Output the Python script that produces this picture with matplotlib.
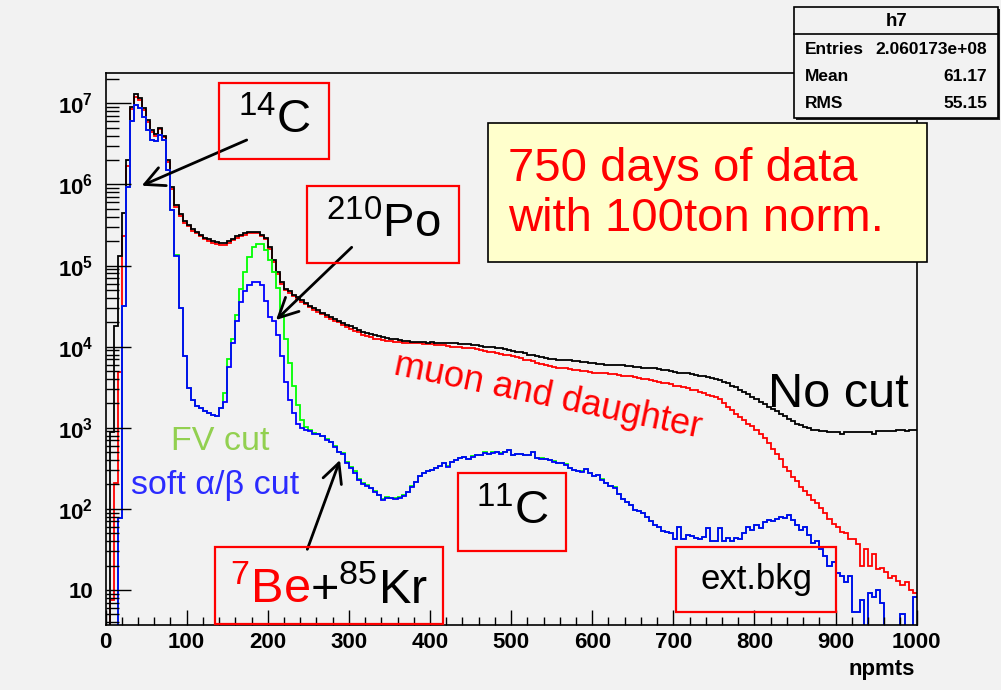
import numpy as np
import matplotlib.pyplot as plt
from matplotlib.patches import Rectangle
from matplotlib.ticker import LogLocator, NullFormatter

plt.rcParams['font.family'] = ['Liberation Sans', 'DejaVu Sans']
plt.rcParams['mathtext.fontset'] = 'custom'
plt.rcParams['mathtext.rm'] = 'Liberation Sans'
plt.rcParams['mathtext.it'] = 'Liberation Sans:italic'
plt.rcParams['mathtext.bf'] = 'Liberation Sans:bold'

# npmts histogram, 200 bins of width 5 between 0 and 1000
edges = np.linspace(0, 1000, 201)

no_cut = [
    0, 890, 1.8e4, 1.3e5, 4.4e5, 2.0e6, 8.9e6, 1.3e7, 1.15e7, 8.7e6,
    6.2e6, 4.7e6, 4.2e6, 5.0e6, 4.0e6, 2.0e6, 9.3e5, 5.6e5, 4.3e5, 3.5e5,
    3.2e5, 2.8e5, 2.6e5, 2.4e5, 2.2e5, 2.1e5, 2.0e5, 1.95e5, 1.9e5, 1.9e5,
    2.0e5, 2.15e5, 2.3e5, 2.4e5, 2.5e5, 2.6e5, 2.6e5, 2.6e5, 2.4e5, 2.2e5,
    1.7e5, 1.17e5, 8.3e4, 6.3e4, 5.2e4, 4.8e4, 4.4e4, 4.1e4, 3.8e4, 3.5e4,
    3.2e4, 3.0e4, 2.8e4, 2.6e4, 2.45e4, 2.3e4, 2.2e4, 2.1e4, 1.95e4, 1.85e4,
    1.78e4, 1.7e4, 1.62e4, 1.51e4, 1.48e4, 1.45e4, 1.38e4, 1.35e4, 1.32e4, 1.29e4,
    1.26e4, 1.23e4, 1.2e4, 1.17e4, 1.17e4, 1.15e4, 1.15e4, 1.15e4, 1.15e4, 1.12e4,
    1.15e4, 1.12e4, 1.12e4, 1.12e4, 1.1e4, 1.1e4, 1.1e4, 1.07e4, 1.07e4, 1.07e4,
    1.05e4, 1.05e4, 1.02e4, 1.0e4, 1.0e4, 9.8e3, 9.5e3, 9.5e3, 9.3e3, 9.1e3,
    8.9e3, 8.7e3, 8.5e3, 8.3e3, 7.9e3, 7.8e3, 7.6e3, 7.4e3, 7.2e3, 7.1e3,
    7.1e3, 6.9e3, 6.9e3, 6.8e3, 6.8e3, 6.6e3, 6.6e3, 6.5e3, 6.5e3, 6.3e3,
    6.3e3, 6.2e3, 6.2e3, 6.0e3, 6.0e3, 6.0e3, 5.9e3, 5.9e3, 5.75e3, 5.75e3,
    5.6e3, 5.6e3, 5.5e3, 5.5e3, 5.4e3, 5.4e3, 5.25e3, 5.1e3, 5.1e3, 5.0e3,
    4.9e3, 4.8e3, 4.8e3, 4.7e3, 4.6e3, 4.5e3, 4.4e3, 4.3e3, 4.2e3, 4.1e3,
    4.0e3, 3.9e3, 3.7e3, 3.55e3, 3.3e3, 3.2e3, 2.95e3, 2.75e3, 2.6e3, 2.4e3,
    2.25e3, 2.1e3, 1.95e3, 1.8e3, 1.7e3, 1.6e3, 1.5e3, 1.4e3, 1.3e3, 1.2e3,
    1120, 1070, 1020, 980, 950, 930, 910, 910, 890, 890,
    890, 850, 880, 890, 890, 890, 880, 890, 880, 850,
    900, 910, 910, 920, 910, 930, 930, 920, 940, 930,
]

muon_cut = [
    0, 7.6, 210, 4.9e3, 2.3e5, 1.7e6, 8.5e6, 1.2e7, 1.1e7, 8.3e6,
    5.9e6, 4.5e6, 4.0e6, 4.8e6, 3.8e6, 1.9e6, 8.9e5, 5.35e5, 4.1e5, 3.35e5,
    3.05e5, 2.7e5, 2.5e5, 2.3e5, 2.1e5, 2.0e5, 1.9e5, 1.85e5, 1.8e5, 1.8e5,
    1.9e5, 2.05e5, 2.2e5, 2.3e5, 2.4e5, 2.5e5, 2.5e5, 2.5e5, 2.3e5, 2.1e5,
    1.6e5, 1.1e5, 7.9e4, 6.0e4, 5.0e4, 4.6e4, 4.2e4, 3.9e4, 3.6e4, 3.35e4,
    3.05e4, 2.85e4, 2.65e4, 2.5e4, 2.3e4, 2.2e4, 2.1e4, 2.0e4, 1.85e4, 1.75e4,
    1.66e4, 1.58e4, 1.51e4, 1.41e4, 1.35e4, 1.32e4, 1.26e4, 1.23e4, 1.2e4, 1.17e4,
    1.17e4, 1.15e4, 1.14e4, 1.12e4, 1.12e4, 1.1e4, 1.1e4, 1.1e4, 1.08e4, 1.07e4,
    1.07e4, 1.06e4, 1.05e4, 1.04e4, 1.02e4, 1.0e4, 1.0e4, 9.8e3, 9.7e3, 9.5e3,
    9.5e3, 9.3e3, 9.1e3, 8.9e3, 8.7e3, 8.5e3, 8.3e3, 8.1e3, 7.9e3, 7.8e3,
    7.6e3, 7.4e3, 7.2e3, 6.9e3, 6.8e3, 6.6e3, 6.3e3, 6.2e3, 6.0e3, 5.75e3,
    5.6e3, 5.5e3, 5.4e3, 5.4e3, 5.25e3, 5.1e3, 5.1e3, 5.0e3, 5.0e3, 4.9e3,
    4.8e3, 4.8e3, 4.7e3, 4.7e3, 4.6e3, 4.6e3, 4.5e3, 4.4e3, 4.4e3, 4.3e3,
    4.2e3, 4.1e3, 4.0e3, 4.0e3, 3.9e3, 3.8e3, 3.7e3, 3.6e3, 3.55e3, 3.45e3,
    3.3e3, 3.25e3, 3.15e3, 3.1e3, 2.95e3, 2.9e3, 2.8e3, 2.7e3, 2.55e3, 2.5e3,
    2.4e3, 2.25e3, 2.0e3, 1.8e3, 1.65e3, 1.5e3, 1.35e3, 1.23e3, 1.12e3, 1.05e3,
    950, 830, 740, 650, 550, 480, 410, 330, 290, 250,
    220, 185, 165, 150, 130, 117, 102, 89, 76, 66,
    59, 52, 50, 42, 43, 37, 20, 32, 19.5, 28,
    18, 18.5, 16.5, 14, 15, 13, 11.5, 12.5, 10, 9.1,
]

fv_cut = [
    0, 0, 0, 78, 3.2e4, 9.3e5, 6.0e6, 9.5e6, 8.7e6, 6.8e6,
    4.7e6, 3.5e6, 3.4e6, 4.1e6, 3.5e6, 1.5e6, 4.8e5, 1.35e5, 3.0e4, 7.6e3,
    3.1e3, 2.2e3, 1.86e3, 1.74e3, 1.62e3, 1.51e3, 1.45e3, 1.40e3, 1.74e3, 2.7e3,
    7.1e3, 1.26e4, 2.45e4, 5.1e4, 8.3e4, 1.29e5, 1.7e5, 1.86e5, 1.82e5, 1.55e5,
    1.17e5, 8.3e4, 5.25e4, 2.5e4, 1.26e4, 6.3e3, 3.3e3, 1.9e3, 1.26e3, 1.02e3,
    930, 870, 830, 800, 720, 670, 590, 510, 490, 375,
    330, 290, 235, 210, 195, 182, 165, 150, 132, 140,
    135, 135, 140, 150, 162, 190, 214, 251, 280, 295,
    302, 320, 339, 363, 335, 380, 398, 427, 440, 417,
    445, 457, 468, 500, 479, 500, 501, 490, 501, 537,
    468, 479, 479, 457, 468, 501, 427, 425, 417, 398,
    385, 372, 363, 355, 316, 302, 295, 292, 309, 275,
    257, 263, 235, 209, 190, 185, 151, 132, 120, 112,
    98, 93, 89, 79, 71, 63, 60, 54, 52, 50,
    42, 60, 42, 48, 46, 44, 42, 45, 58, 40,
    40, 58, 40, 44, 40, 44, 42, 50, 60, 55,
    63, 58, 68, 72, 71, 76, 79, 78, 83, 72,
    63, 55, 59, 48, 38, 40, 32, 26, 19.5, 22,
    16, 15, 12.6, 15, 5.4, 5.4, 7.6, 0, 9.1, 8.3,
    10, 6.9, 0, 0, 0, 0, 5.0, 0, 0, 8.3,
]

soft_ab_cut = [
    0, 0, 0, 78, 3.2e4, 9.3e5, 6.0e6, 9.5e6, 8.7e6, 6.8e6,
    4.7e6, 3.5e6, 3.4e6, 4.1e6, 3.5e6, 1.5e6, 4.8e5, 1.3e5, 3.0e4, 7.6e3,
    3.1e3, 2.2e3, 1.86e3, 1.74e3, 1.62e3, 1.51e3, 1.45e3, 1.38e3, 1.74e3, 2.1e3,
    5.6e3, 1.12e4, 2.1e4, 3.55e4, 4.8e4, 5.75e4, 6.3e4, 6.3e4, 5.75e4, 3.7e4,
    2.35e4, 2.05e4, 1.38e4, 7.6e3, 3.7e3, 2.2e3, 1.51e3, 1.12e3, 980, 930,
    910, 850, 830, 790, 710, 660, 575, 500, 480, 365,
    316, 275, 229, 204, 190, 182, 162, 148, 129, 135,
    135, 132, 138, 145, 162, 186, 214, 251, 275, 295,
    302, 316, 339, 363, 331, 380, 398, 427, 437, 417,
    437, 457, 468, 490, 479, 490, 501, 479, 501, 537,
    468, 479, 479, 457, 468, 501, 427, 417, 417, 398,
    380, 372, 363, 347, 316, 302, 295, 288, 309, 275,
    257, 263, 229, 209, 190, 182, 151, 132, 120, 112,
    98, 93, 89, 79, 71, 63, 60, 54, 52, 50,
    42, 60, 42, 48, 46, 44, 42, 45, 58, 40,
    40, 58, 40, 44, 40, 44, 42, 50, 60, 55,
    63, 58, 68, 72, 71, 76, 79, 78, 83, 72,
    63, 55, 59, 48, 38, 40, 32, 26, 19.5, 22,
    16, 15, 12.6, 15, 5.4, 5.4, 7.6, 0, 9.1, 8.3,
    10, 6.9, 0, 0, 0, 0, 5.0, 0, 0, 8.3,
]

stats_rows = [("Entries", "2.060173e+08"), ("Mean", "61.17"), ("RMS", "55.15")]

W, H = 1001, 690
BG = '#f2f2f2'


def fx(x):
    return x / W


def fy(y):
    return 1 - y / H


fig = plt.figure(figsize=(W / 100, H / 100), dpi=100, facecolor=BG)
ax = fig.add_axes([fx(105.5), fy(625), (916.7 - 105.5) / W, (625 - 73.3) / H])
ax.set_facecolor(BG)
ax.set_yscale('log')
ax.set_xlim(0, 1000)
ax.set_ylim(3.7, 2.35e7)

# empty bins are pushed below the axis so the outline runs along the bottom
for vals, col in [(muon_cut, 'red'), (no_cut, 'black'),
                  (fv_cut, '#00ff00'), (soft_ab_cut, 'blue')]:
    ax.stairs(np.clip(vals, 1.0, None), edges, color=col, lw=1.3, baseline=None)

for sp in ax.spines.values():
    sp.set_linewidth(1.2)

ax.set_xticks(np.arange(0, 1001, 100))
ax.set_xticks(np.arange(0, 1001, 20), minor=True)
ax.tick_params(axis='x', which='major', direction='in', length=11, width=1,
               labelsize=16, pad=5)
ax.tick_params(axis='x', which='minor', direction='in', length=5.5, width=1)
for lab in ax.get_xticklabels():
    lab.set_fontweight('bold')

ax.set_yticks([10.0 ** k for k in range(1, 8)])
ax.set_yticklabels(['10'] + [r'$\mathbf{10^{%d}}$' % k for k in range(2, 8)],
                   fontweight='bold')
ax.yaxis.set_minor_locator(LogLocator(base=10, subs=np.arange(2, 10), numticks=20))
ax.yaxis.set_minor_formatter(NullFormatter())
ax.tick_params(axis='y', which='major', direction='in', length=18, width=1,
               labelsize=16, pad=9)
ax.tick_params(axis='y', which='minor', direction='in', length=9, width=1)

fig.text(fx(915), fy(670), 'npmts', fontsize=16, fontweight='bold',
         ha='right', va='center')

# statistics box
fig.add_artist(Rectangle((fx(796), fy(120.3)), 203.7 / W, 111.3 / H,
                         transform=fig.transFigure, fc='#222222', ec='none'))
fig.add_artist(Rectangle((fx(794), fy(118.3)), 203.7 / W, 111.3 / H,
                         transform=fig.transFigure, fc=BG, ec='black', lw=1.2))
fig.add_artist(plt.Line2D([fx(794), fx(997.7)], [fy(34.3), fy(34.3)],
                          transform=fig.transFigure, color='black', lw=1.2))
fig.text(fx(896.5), fy(21), 'h7', fontsize=13.5, fontweight='bold',
         ha='center', va='center')
for i, (name, val) in enumerate(stats_rows):
    y = fy(49 + 27.5 * i)
    fig.text(fx(805), y, name, fontsize=12.5, fontweight='bold', va='center')
    fig.text(fx(987), y, val, fontsize=12.5, fontweight='bold',
             ha='right', va='center')

# yellow note
fig.add_artist(Rectangle((fx(488), fy(262)), 439 / W, 139 / H,
                         transform=fig.transFigure, fc='#ffffcc', ec='black', lw=1.2))
fig.text(fx(508), fy(194), '750 days of data\nwith 100ton norm.', color='red',
         fontsize=34, ha='left', va='center', linespacing=1.2)


def red_box(x0, y0, x1, y1):
    fig.add_artist(Rectangle((fx(x0), fy(y1)), (x1 - x0) / W, (y1 - y0) / H,
                             transform=fig.transFigure, fill=False,
                             ec='red', lw=1.6))


red_box(219.3, 82.7, 329.3, 159.3)
fig.text(fx(274), fy(121), r'$^{14}$C', fontsize=34, ha='center', va='center')

red_box(306.7, 186, 459, 263.3)
fig.text(fx(383), fy(225), r'$^{210}$Po', fontsize=34, ha='center', va='center')

red_box(458.3, 473.3, 565.7, 550.7)
fig.text(fx(512), fy(512), r'$^{11}$C', fontsize=34, ha='center', va='center')

red_box(676, 546.7, 836, 611.7)
fig.text(fx(756), fy(579), 'ext.bkg', fontsize=25, ha='center', va='center')

red_box(215, 546.7, 443.3, 624)
t_be = fig.text(0, fy(603), r'$^{7}$Be', color='red', fontsize=35, va='baseline')
t_kr = fig.text(0, fy(603), r'+$^{85}$Kr', color='black', fontsize=35, va='baseline')
rend = fig.canvas.get_renderer()
w_be = t_be.get_window_extent(rend).width
w_kr = t_kr.get_window_extent(rend).width
x_start = 329.2 - (w_be + w_kr) / 2
t_be.set_x(fx(x_start))
t_kr.set_x(fx(x_start + w_be))

fig.text(fx(768), fy(407), 'No cut', fontsize=35, va='baseline')
fig.text(fx(548), fy(397), 'muon and daughter', color='red', fontsize=26,
         rotation=-11.7, rotation_mode='anchor', ha='center', va='center')
fig.text(fx(171), fy(450), 'FV cut', color='#92d050', fontsize=24.5, va='baseline')
fig.text(fx(131), fy(494), 'soft α/β cut', color='#2b2bff', fontsize=24.5,
         va='baseline')

# arrows from the labels to the features
arrow = dict(arrowstyle='->,head_length=0.7,head_width=0.35', color='black',
             lw=2, shrinkA=0, shrinkB=0, mutation_scale=20)
for start, tip in [((246.7, 140), (141.7, 185.7)),
                   ((351.7, 247.3), (276, 320)),
                   ((307.3, 549.3), (340, 460))]:
    ax.annotate('', xy=(tip[0], H - tip[1]), xytext=(start[0], H - start[1]),
                xycoords='figure pixels', textcoords='figure pixels',
                arrowprops=arrow)

fig.savefig('out.png', dpi=100, facecolor=BG)
